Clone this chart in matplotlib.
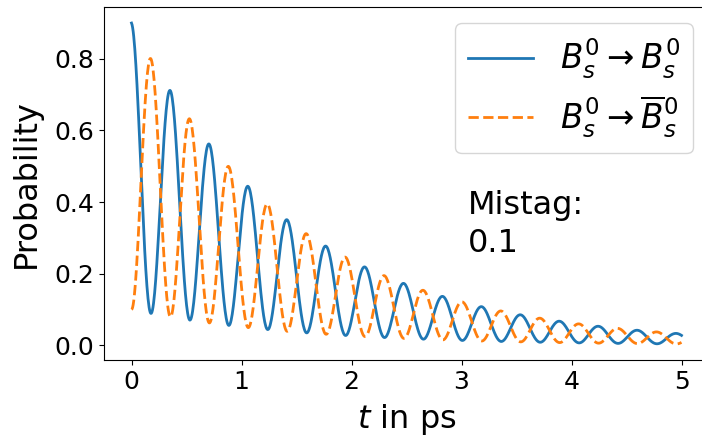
import numpy as np
import matplotlib.pyplot as plt

# values
mistag = 0.1          # given in the plot text
tau = 1.5             # lifetime in ps (envelope decay)
delta_m = 17.757      # oscillation frequency in 1/ps (period ~0.354 ps)
t_max = 5.0

t = np.linspace(0, t_max, 1000)
envelope = np.exp(-t / tau)
p_unmixed = envelope * (0.5 + 0.5 * (1 - 2 * mistag) * np.cos(delta_m * t))
p_mixed = envelope * (0.5 - 0.5 * (1 - 2 * mistag) * np.cos(delta_m * t))

fig = plt.figure(figsize=(7.02, 4.37), dpi=100)
ax = fig.add_axes([104 / 702, 1 - 360 / 437, 605 / 702, 353 / 437])

ax.plot(t, p_unmixed, color='#1f77b4', linewidth=2, label=r'$B_s^0 \rightarrow B_s^0$')
ax.plot(t, p_mixed, color='#ff7f0e', linewidth=2, linestyle='--',
        label=r'$B_s^0 \rightarrow \overline{B}_s^0$')

ax.set_xlim(-0.25, 5.25)
ax.set_xlabel(r'$t$ in ps', fontsize=23, labelpad=6)
ax.set_ylabel('Probability', fontsize=23, labelpad=9)
ax.tick_params(labelsize=18)

ax.text(3.06, 0.24, 'Mistag:\n' + str(mistag), fontsize=23, linespacing=1.3,
        va='bottom', ha='left')
ax.legend(loc='upper right', fontsize=23.5, labelspacing=0.4)

fig.savefig('out.png', dpi=100)
